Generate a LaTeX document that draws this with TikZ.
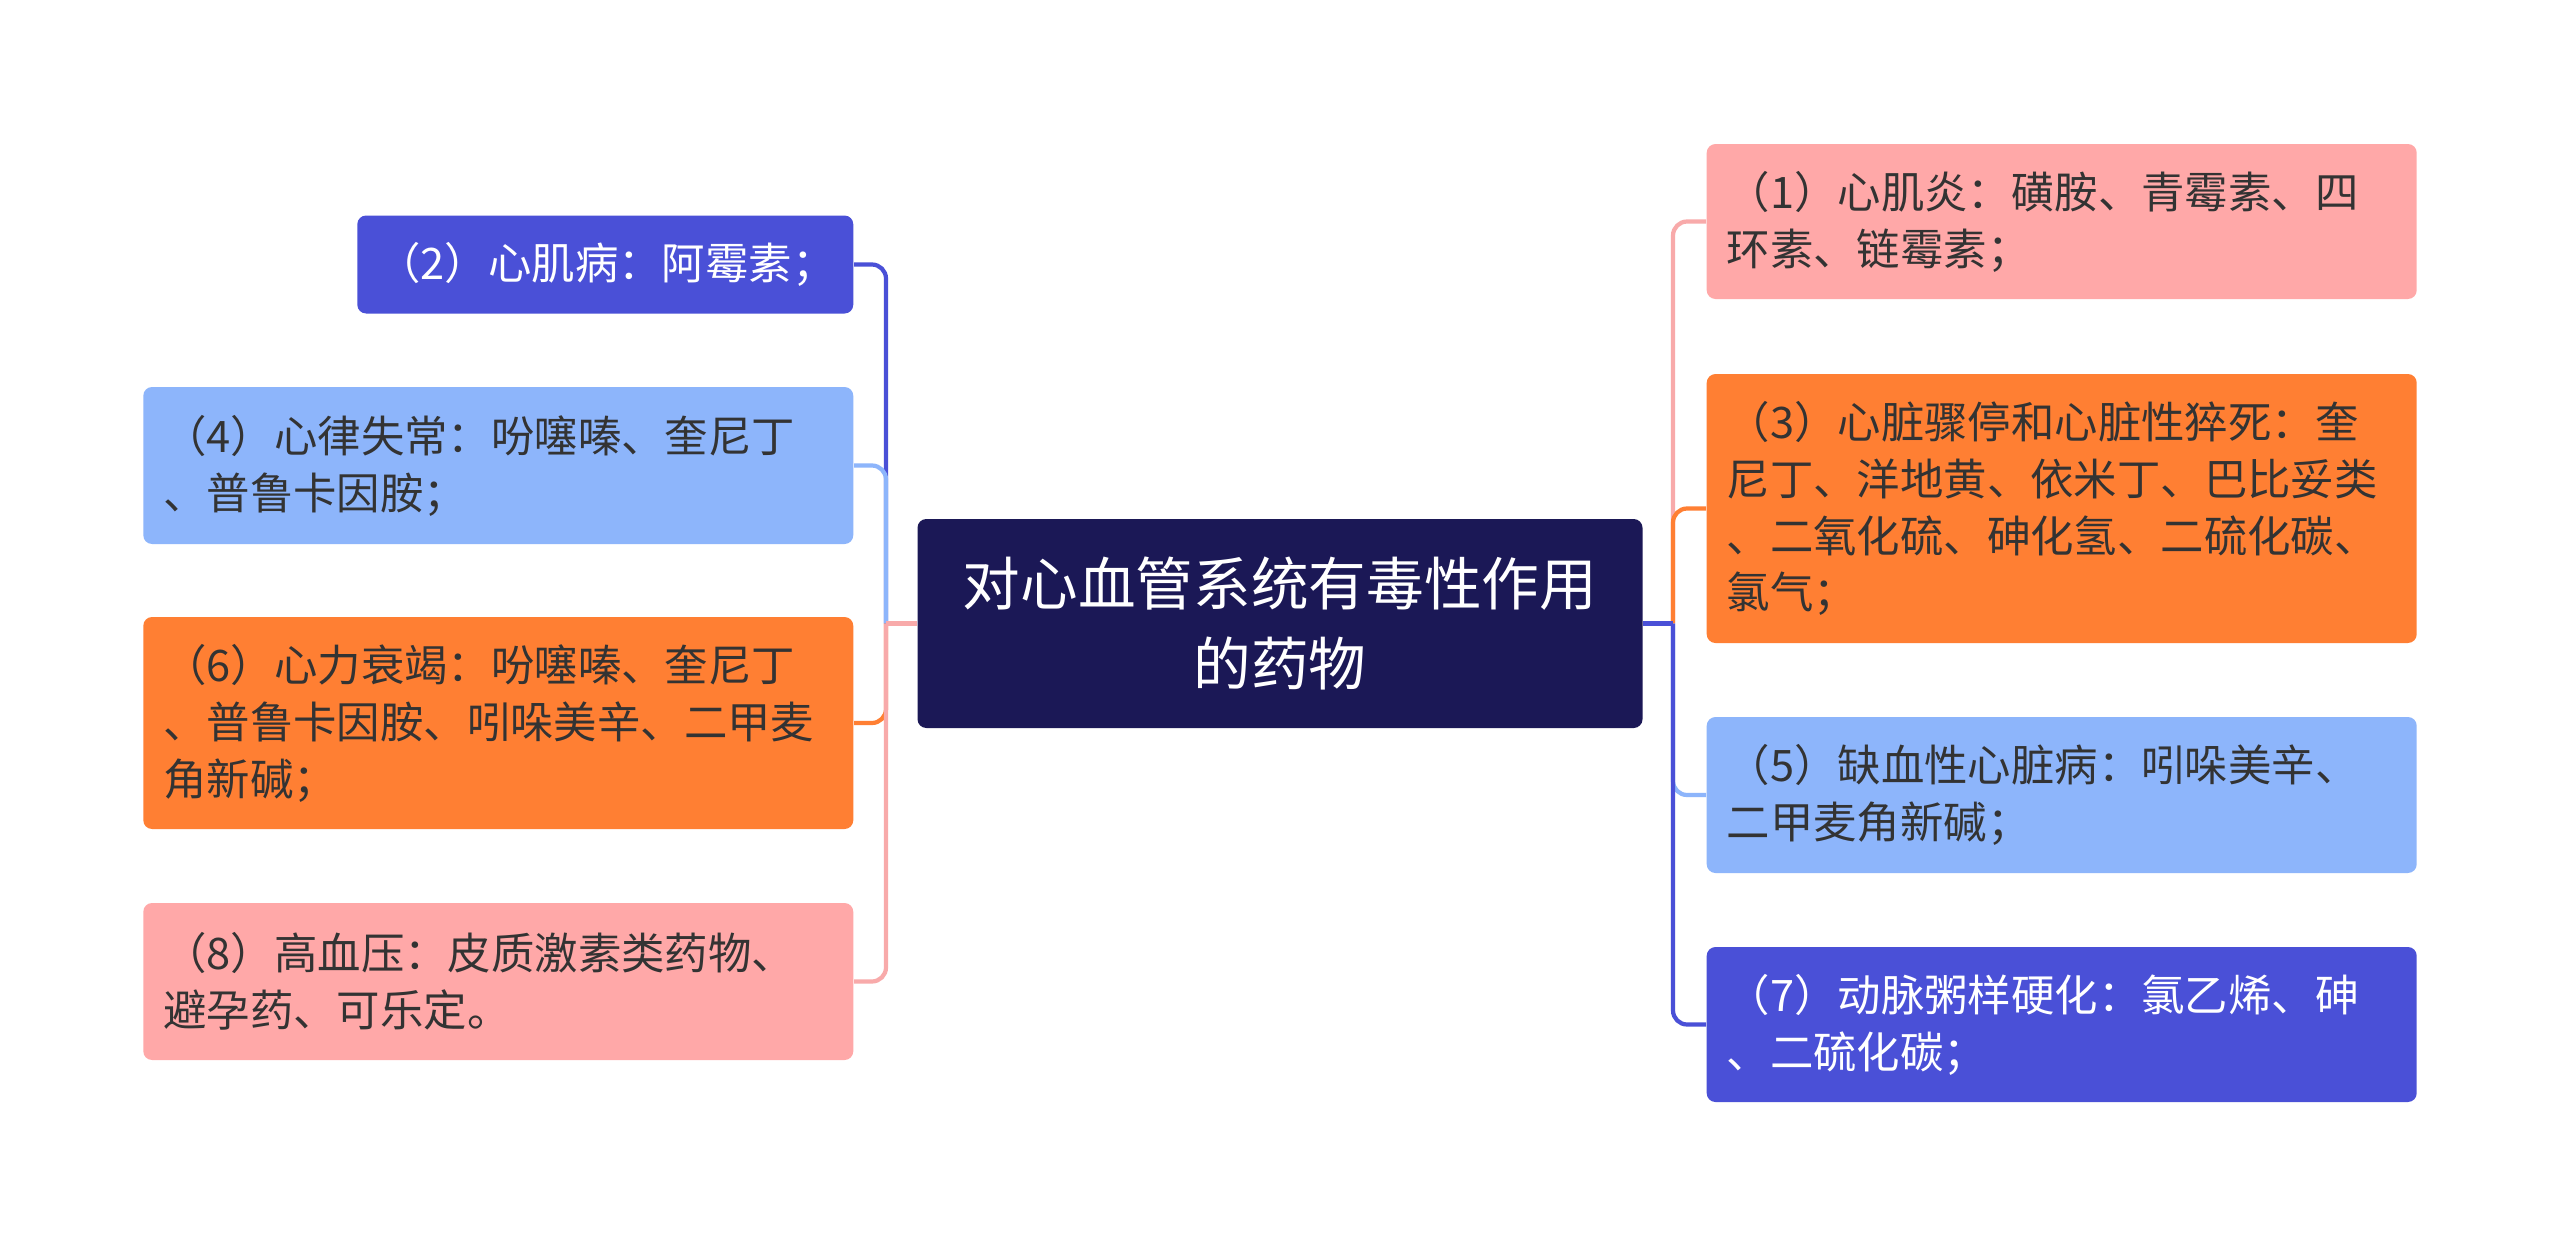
\documentclass[tikz,border=0pt]{standalone}
\usepackage{fontspec}
\setmainfont{Noto Sans CJK SC}
\usepackage{tikz}
\definecolor{mmRoot}{HTML}{1B1856}
\definecolor{mmBlue}{HTML}{4A50D7}
\definecolor{mmSky}{HTML}{8DB5FB}
\definecolor{mmOrange}{HTML}{FF7F33}
\definecolor{mmPink}{HTML}{FFA8A8}
\definecolor{mmPinkLine}{HTML}{F8AAAA}
\definecolor{mmText}{HTML}{333333}
\newcommand{\leaffont}{\fontsize{12.35pt}{16.2pt}\selectfont}
\newcommand{\rootfont}{\fontsize{16.4pt}{22.8pt}\selectfont}
\tikzset{
  leaf/.style={rounded corners=2.5pt, inner xsep=0.2cm, inner ysep=0pt,
    align=left, font=\leaffont, text=mmText, text width=6.70cm},
  root/.style={rounded corners=2.5pt, fill=mmRoot, text=white, align=center,
    font=\rootfont, minimum width=7.25cm, minimum height=2.09cm},
  link/.style={line width=1.2pt, rounded corners=4pt},
}

\begin{document}
\begin{tikzpicture}
\useasboundingbox (0,0) rectangle (25.6,-12.47);
\fill[white] (0,0) rectangle (25.6,-12.47);
% centre
\node[root] (root) at (12.80,-6.235) {对心血管系统有毒性作用\\的药物};
% left side
\node[leaf, fill=mmBlue, text=white, text width=4.56cm, minimum height=0.98cm, anchor=east] (l2) at (8.54,-2.645) {（2）心肌病：阿霉素；};
\node[leaf, fill=mmSky, minimum height=1.57cm, anchor=east] (l4) at (8.54,-4.655) {（4）心律失常：吩噻嗪、奎尼丁\\、普鲁卡因胺；};
\node[leaf, fill=mmOrange, minimum height=2.12cm, anchor=east] (l6) at (8.54,-7.23) {（6）心力衰竭：吩噻嗪、奎尼丁\\、普鲁卡因胺、吲哚美辛、二甲麦\\角新碱；};
\node[leaf, fill=mmPink, minimum height=1.57cm, anchor=east] (l8) at (8.54,-9.815) {（8）高血压：皮质激素类药物、\\避孕药、可乐定。};
% right side
\node[leaf, fill=mmPink, minimum height=1.55cm, anchor=west] (r1) at (17.06,-2.215) {（1）心肌炎：磺胺、青霉素、四\\环素、链霉素；};
\node[leaf, fill=mmOrange, minimum height=2.69cm, anchor=west] (r3) at (17.06,-5.085) {（3）心脏骤停和心脏性猝死：奎\\尼丁、洋地黄、依米丁、巴比妥类\\、二氧化硫、砷化氢、二硫化碳、\\氯气；};
\node[leaf, fill=mmSky, minimum height=1.56cm, anchor=west] (r5) at (17.06,-7.95) {（5）缺血性心脏病：吲哚美辛、\\二甲麦角新碱；};
\node[leaf, fill=mmBlue, text=white, minimum height=1.55cm, anchor=west] (r7) at (17.06,-10.245) {（7）动脉粥样硬化：氯乙烯、砷\\、二硫化碳；};
% junctions
\coordinate (lj) at (8.86,-6.235);
\coordinate (rj) at (16.73,-6.235);
% links
\draw[link, mmBlue] (l2.east) -| (lj);
\draw[link, mmSky] (l4.east) -| (lj);
\draw[link, mmOrange] (l6.east) -| (lj);
\draw[link, mmPinkLine] (l8.east) -| (lj);
\draw[link, mmPinkLine] (lj) -- (root.west);
\draw[link, mmPinkLine] (r1.west) -| (rj);
\draw[link, mmOrange] (r3.west) -| (rj);
\draw[link, mmSky] (r5.west) -| (rj);
\draw[link, mmBlue] (r7.west) -| (rj);
\draw[link, mmBlue] (root.east) -- (rj);
\end{tikzpicture}
\end{document}
